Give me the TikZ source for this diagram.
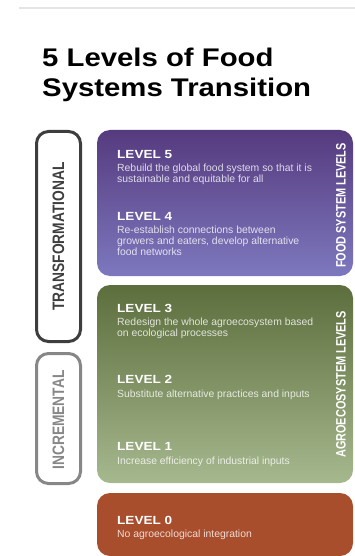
\documentclass[tikz,border=0pt]{standalone}
\usepackage{fontspec}
\usepackage{graphicx}
\setmainfont{Liberation Sans}[FakeStretch=1.15]
\newfontfamily\sidefont{Liberation Sans}
\usetikzlibrary{positioning}
\definecolor{foodtop}{RGB}{86,58,126}
\definecolor{foodbot}{RGB}{125,120,190}
\definecolor{agrotop}{RGB}{92,110,60}
\definecolor{agrobot}{RGB}{166,184,142}
\definecolor{basered}{RGB}{169,78,45}
\definecolor{framedark}{RGB}{62,62,62}
\definecolor{framelight}{RGB}{135,135,135}
\definecolor{rulegray}{RGB}{228,228,228}
\tikzset{
  tier/.style={rectangle, rounded corners=13pt, minimum width=256pt, inner sep=0pt},
  frame/.style={rectangle, rounded corners=12pt, line width=3pt, minimum width=44pt, inner sep=0pt},
  heading/.style={anchor=base west, inner sep=0pt, font=\fontsize{25.5}{30}\selectfont\bfseries},
  lvl/.style={anchor=base west, inner sep=0pt, text=white, font=\fontsize{11.8}{14}\selectfont\bfseries},
  desc/.style={anchor=north west, inner sep=0pt, align=left, text=white, text opacity=0.8, font=\sidefont\fontsize{10.4}{11.2}\selectfont},
  side/.style={rotate=90, inner sep=0pt, text=white, font=\sidefont\fontsize{10.9}{12}\selectfont\bfseries},
  frametext/.style={rotate=90, inner sep=0pt, font=\sidefont\fontsize{13.8}{15}\selectfont\bfseries}
}
\begin{document}
\begin{tikzpicture}[x=1pt, y=-1pt]
\useasboundingbox (0,0) rectangle (355,556);
\draw[rulegray, line width=2pt] (19,8) -- (355,8);
\node[heading] (head1) at (42,67) {5 Levels of Food};
\node[heading] (head2) at (42,97) {Systems Transition};
% left frames
\node[frame, draw=framedark, minimum height=210pt] (trans) at (58.5,236.5) {};
\node[frame, draw=framelight, minimum height=130pt] (incr) at (58.5,418.5) {};
\node[frametext, text=framedark] (translab) at (trans.center) {\scalebox{1}[1.2]{TRANSFORMATIONAL}};
\node[frametext, text=framelight] (incrlab) at (58.5,420) {\scalebox{1}[1.2]{INCREMENTAL}};
% level boxes
\node[tier, minimum height=146pt, top color=foodtop, bottom color=foodbot] (food) at (225,203) {};
\node[tier, minimum height=198pt, top color=agrotop, bottom color=agrobot] (agro) at (225,384) {};
\node[tier, minimum height=63pt, fill=basered] (base) at (225,524.5) {};
\node[side] (foodlab) at (341,205.5) {\scalebox{1}[1.25]{FOOD SYSTEM LEVELS}};
\node[side] (agrolab) at (341,384.5) {\scalebox{1}[1.25]{AGROECOSYSTEM LEVELS}};
% levels
\node[lvl] (l5) at (117,158) {LEVEL 5};
\node[desc] (d5) at (117,163.5) {Rebuild the global food system so that it is\\sustainable and equitable for all};
\node[lvl] (l4) at (117,220) {LEVEL 4};
\node[desc] (d4) at (117,225.5) {Re-establish connections between\\growers and eaters, develop alternative\\food networks};
\node[lvl] (l3) at (117,312) {LEVEL 3};
\node[desc] (d3) at (117,317.5) {Redesign the whole agroecosystem based\\on ecological processes};
\node[lvl] (l2) at (117,383) {LEVEL 2};
\node[desc] (d2) at (117,389.5) {Substitute alternative practices and inputs};
\node[lvl] (l1) at (117,450) {LEVEL 1};
\node[desc] (d1) at (117,456.5) {Increase efficiency of industrial inputs};
\node[lvl] (l0) at (117,524) {LEVEL 0};
\node[desc] (d0) at (117,529.5) {No agroecological integration};
\end{tikzpicture}
\end{document}
